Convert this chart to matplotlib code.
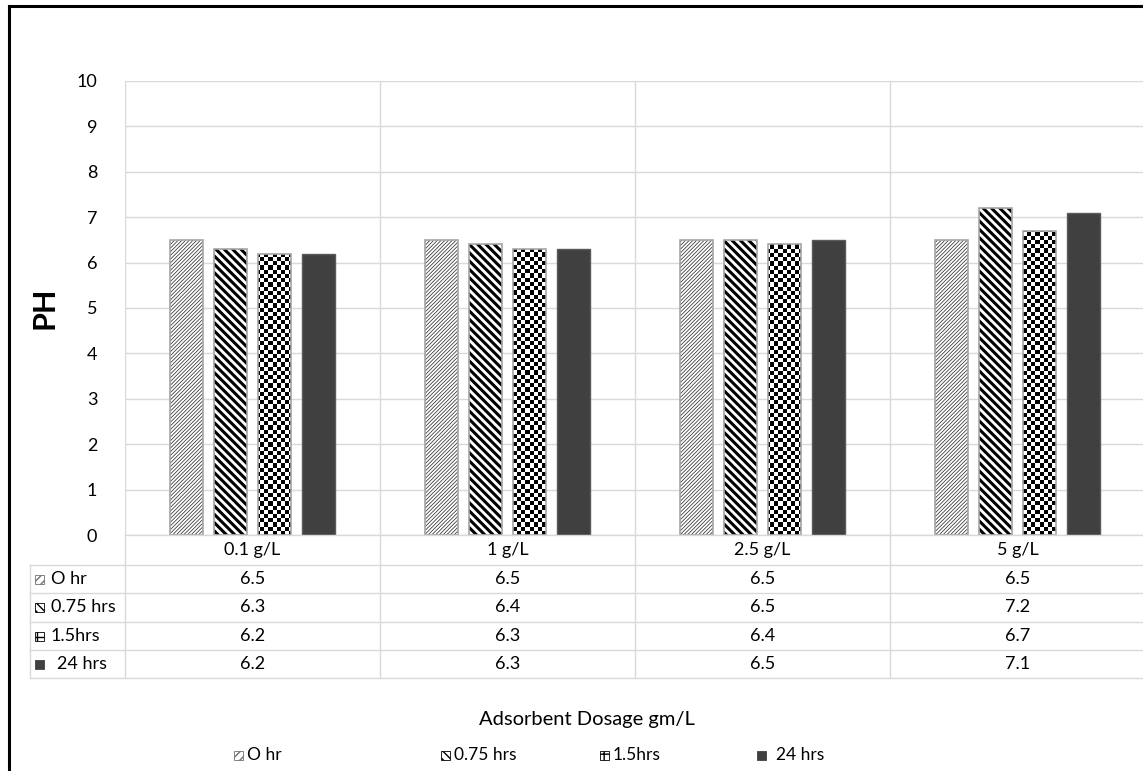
import numpy as np
import matplotlib
matplotlib.use("Agg")
import matplotlib.pyplot as plt
from matplotlib.patches import Rectangle
from matplotlib.lines import Line2D

plt.rcParams['font.family'] = ['Lato', 'DejaVu Sans']

# data
dosages = ["0.1 g/L", "1 g/L", "2.5 g/L", "5 g/L"]
series = ["O hr", "0.75 hrs", "1.5hrs", "24 hrs"]
ph_0hr = [6.5, 6.5, 6.5, 6.5]
ph_075hr = [6.3, 6.4, 6.5, 7.2]
ph_15hr = [6.2, 6.3, 6.4, 6.7]
ph_24hr = [6.2, 6.3, 6.5, 7.1]
values = [ph_0hr, ph_075hr, ph_15hr, ph_24hr]

W, H = 1143, 771
fig = plt.figure(figsize=(W / 100, H / 100), dpi=100)

def fx(px):
    return px / W

def fy(py):
    return 1 - py / H

ax_l, ax_r, ax_t, ax_b = 125, 1145, 81, 535
ax = fig.add_axes([fx(ax_l), fy(ax_b), fx(ax_r - ax_l), fy(ax_t) - fy(ax_b)])

grid_c = "#d9d9d9"
edge_c = "#a6a6a6"
dark = "#404040"

x = np.arange(len(dosages))
bw = 33 / 255
step = 44 / 255
offs = (np.arange(4) - 1.5) * step

def set_hlw(patch, lw):
    if hasattr(patch, "set_hatch_linewidth"):
        patch.set_hatch_linewidth(lw)

# 0 hr: fine upward diagonal
with plt.rc_context({'hatch.linewidth': 0.55}):
    bars0 = ax.bar(x + offs[0], values[0], bw, color="white", hatch="/" * 9,
                   edgecolor="#303030", linewidth=0, zorder=2)
for b in bars0:
    set_hlw(b, 0.55)

# 0.75 hrs: thick downward diagonal
with plt.rc_context({'hatch.linewidth': 2.2}):
    bars1 = ax.bar(x + offs[1], values[1], bw, color="white", hatch="\\" * 4,
                   edgecolor="black", linewidth=0, zorder=2)
for b in bars1:
    set_hlw(b, 2.2)

# 1.5 hrs: checkerboard texture clipped to bars
bars2 = ax.bar(x + offs[2], values[2], bw, color="white", linewidth=0, zorder=2)
cell = 4.2
nx = int((ax_r - ax_l) / cell)
ny = int((ax_b - ax_t) / cell)
checker = (np.add.outer(np.arange(ny), np.arange(nx)) % 2).astype(float)
for b in bars2:
    im = ax.imshow(checker, cmap="gray", interpolation="nearest",
                   extent=[0, 1, 0, 1], transform=ax.transAxes,
                   aspect="auto", zorder=2.5)
    im.set_clip_path(b)

# 24 hrs: solid dark
bars3 = ax.bar(x + offs[3], values[3], bw, color=dark, linewidth=0, zorder=2)

# grey outlines
for k in range(3):
    ax.bar(x + offs[k], values[k], bw, fill=False, edgecolor=edge_c,
           linewidth=1.2, zorder=3)
ax.bar(x + offs[3], values[3], bw, fill=False, edgecolor="#5a5a5a",
       linewidth=1.0, zorder=3)

ax.set_xlim(-0.5, 3.5)
ax.set_ylim(0, 10)
ax.set_yticks(range(0, 11))
ax.set_xticks([])
ax.tick_params(axis='y', length=0, labelsize=13, pad=20)
for s in ax.spines.values():
    s.set_visible(False)
ax.grid(axis='y', color=grid_c, linewidth=1, zorder=0)
ax.set_axisbelow(True)
for xv in np.arange(-0.5, 4.0, 1.0):
    ax.axvline(xv, color=grid_c, linewidth=1, zorder=0)
ax.set_ylabel("PH", fontsize=22, fontweight="bold", labelpad=13)

# data table below the axes
row_y = [535, 565, 593, 622, 650, 678]
tab_l = 30
line_kw = dict(color=grid_c, linewidth=1, transform=fig.transFigure)
fig.add_artist(Line2D([fx(ax_l), fx(ax_r)], [fy(row_y[0])] * 2, **line_kw))
for yy in row_y[1:]:
    fig.add_artist(Line2D([fx(tab_l), fx(ax_r)], [fy(yy)] * 2, **line_kw))
fig.add_artist(Line2D([fx(tab_l)] * 2, [fy(row_y[1]), fy(row_y[-1])], **line_kw))
fig.add_artist(Line2D([fx(ax_l)] * 2, [fy(row_y[0]), fy(row_y[-1])], **line_kw))
col_w = (ax_r - ax_l) / 4
for i in range(1, 4):
    xp = ax_l + i * col_w
    fig.add_artist(Line2D([fx(xp)] * 2, [fy(row_y[0]), fy(row_y[-1])], **line_kw))

for i, d in enumerate(dosages):
    fig.text(fx(ax_l + (i + 0.5) * col_w), fy((row_y[0] + row_y[1]) / 2), d,
             ha="center", va="center", fontsize=13)

icon_styles = [
    dict(facecolor="white", hatch="////", edgecolor="#707070"),
    dict(facecolor="white", hatch="\\\\\\\\", edgecolor="black"),
    dict(facecolor="white", hatch="++", edgecolor="black"),
    dict(facecolor=dark, edgecolor=dark),
]

def icon(px, py):
    return (fx(px), fy(py + 4.5)), fx(9), fy(py - 4.5) - fy(py + 4.5)

for r, (name, vals) in enumerate(zip(series, values)):
    yc = (row_y[r + 1] + row_y[r + 2]) / 2
    xy, w, h = icon(35, yc)
    fig.add_artist(Rectangle(xy, w, h, transform=fig.transFigure,
                             linewidth=0.6, **icon_styles[r]))
    lx = 57 if r == 3 else 51
    fig.text(fx(lx), fy(yc), name, ha="left", va="center", fontsize=13)
    for i, v in enumerate(vals):
        fig.text(fx(ax_l + (i + 0.5) * col_w), fy(yc), f"{v}",
                 ha="center", va="center", fontsize=13)

fig.text(fx(587), fy(720), "Adsorbent Dosage gm/L", ha="center", va="center",
         fontsize=14.5)

# legend entries at the bottom
leg_x = [234, 441, 600, 757]
for k, name in enumerate(series):
    xy, w, h = icon(leg_x[k], 755)
    fig.add_artist(Rectangle(xy, w, h, transform=fig.transFigure,
                             linewidth=0.6, **icon_styles[k]))
    lx = leg_x[k] + (19 if k == 3 else 13)
    fig.text(fx(lx), fy(755), name, ha="left", va="center", fontsize=12.5)

# outer frame (left and top edges visible)
frame_kw = dict(color="black", linewidth=2.2, transform=fig.transFigure)
fig.add_artist(Line2D([fx(9), fx(9)], [fy(6), 0], **frame_kw))
fig.add_artist(Line2D([fx(9), 1], [fy(6), fy(6)], **frame_kw))

fig.savefig("out.png", dpi=100)
